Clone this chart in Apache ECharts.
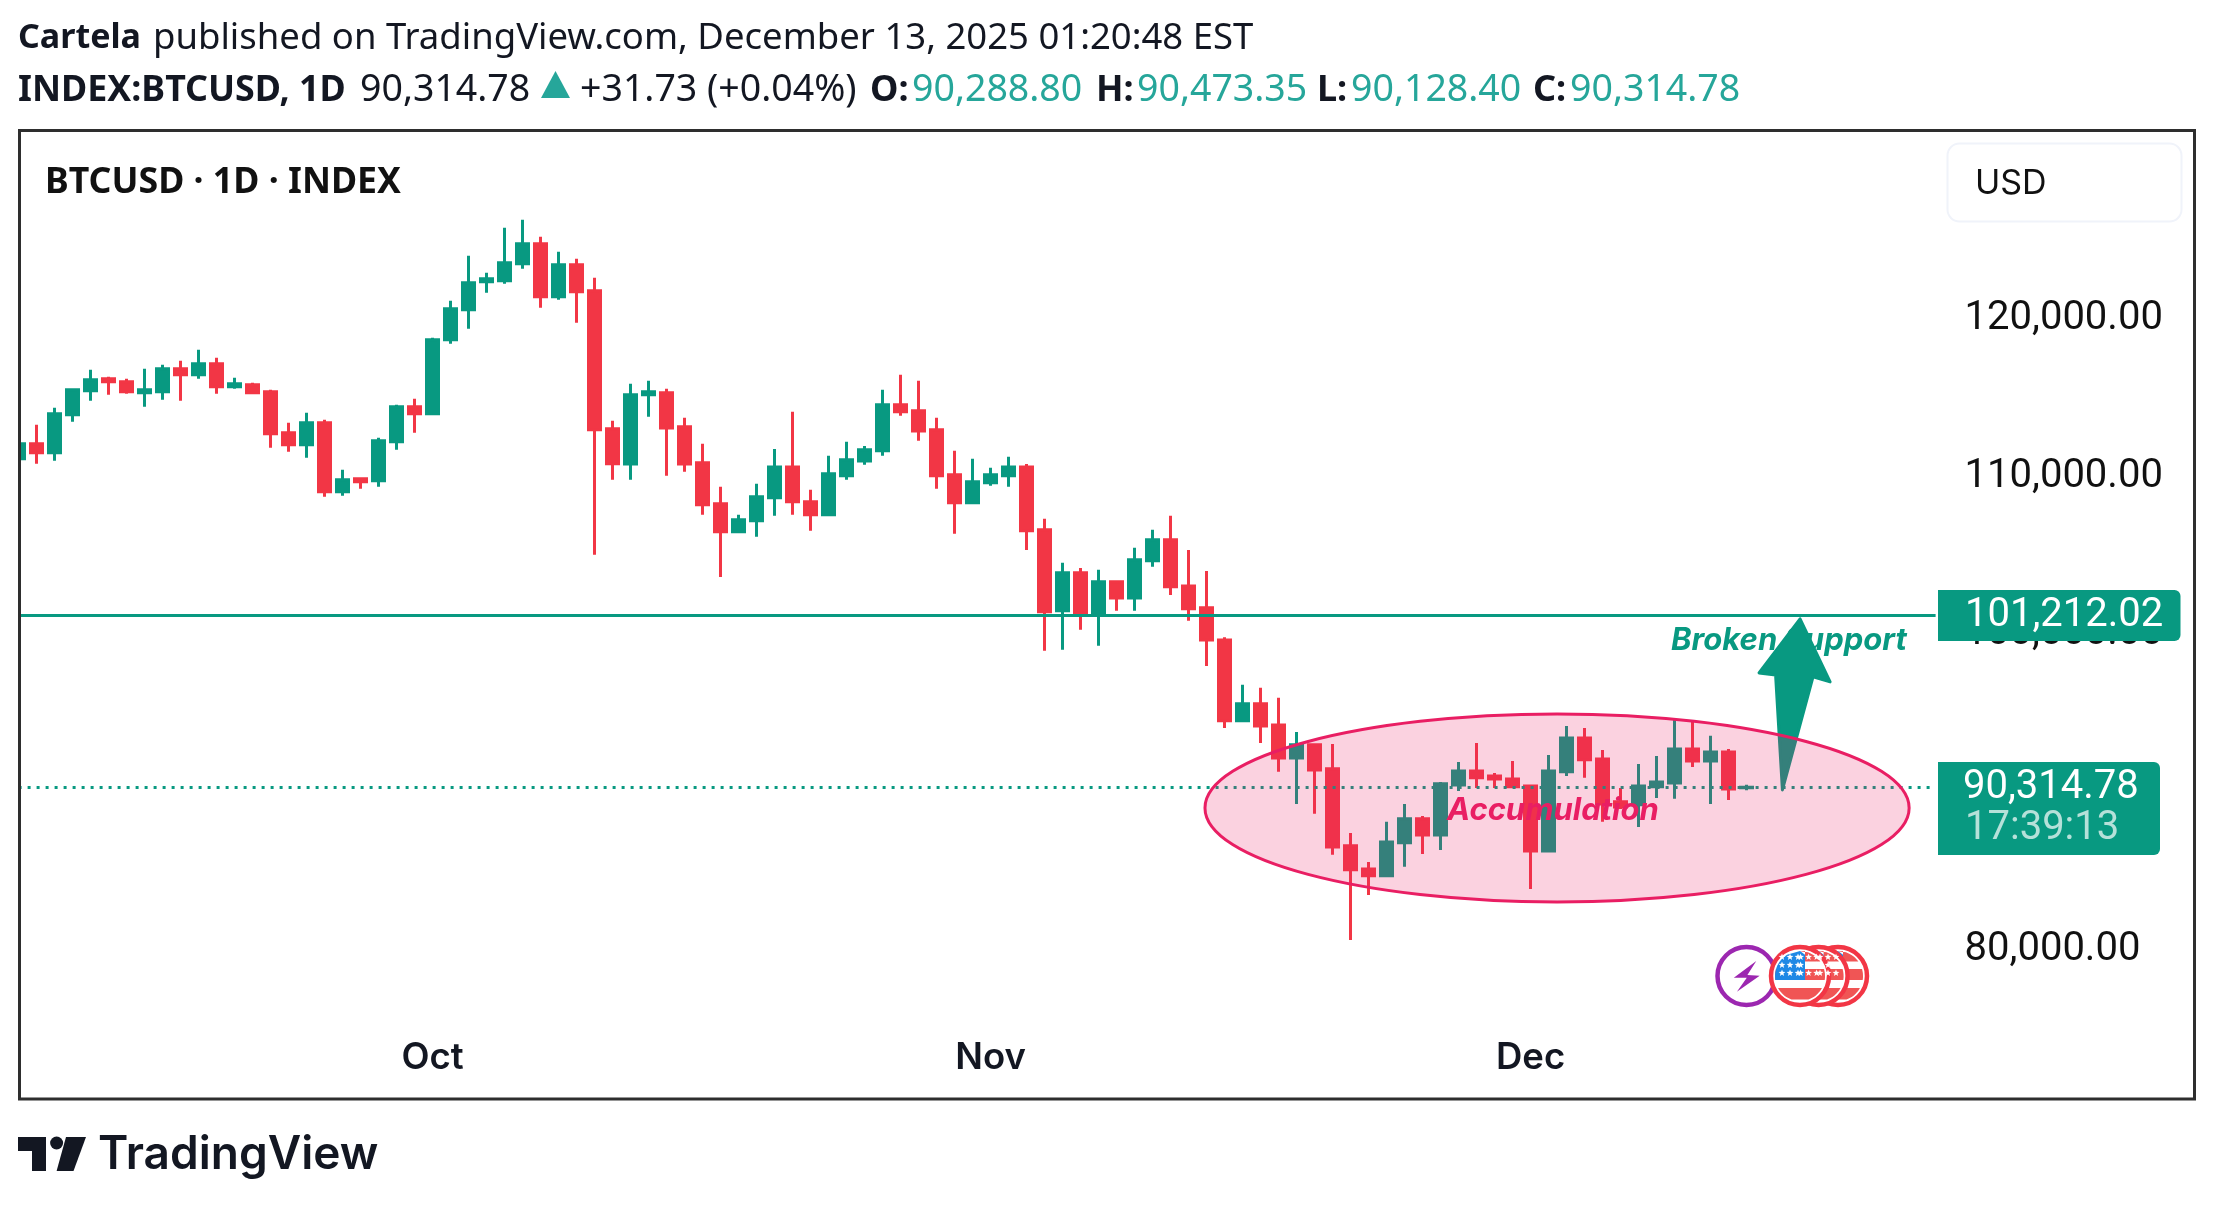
<!DOCTYPE html>
<html><head><meta charset="utf-8">
<style>html,body{margin:0;padding:0;background:#fff}#c{width:2214px;height:1209px}</style>
<script src="https://cdn.jsdelivr.net/npm/echarts@6/dist/echarts.min.js"></script>
</head><body><div id="c"></div>
<script>
const opens=[111120,112070,111500,113910,115430,116190,116000,115300,115370,116830,116450,117140,115680,115810,115370,112770,112010,113400,109030,109860,109730,112200,114420,113970,118660,120560,122340,122400,123480,124750,121390,123410,121770,113020,110800,115180,115300,113150,110870,108270,106500,107190,108650,110610,108400,107570,110040,110990,111630,114540,114160,112960,110110,108330,109600,110040,110610,106620,101490,103900,101300,103330,102310,104660,105990,103070,101680,99650,94520,95600,94260,92170,93000,91480,86600,85140,84700,86790,88310,87290,90460,91350,91030,90840,90400,86280,91290,93440,92110,89390,89200,90340,90590,92740,91980,92550,90288.80];
const closes=[112070,111500,113970,115490,116130,116000,115370,115490,116830,116450,117140,115680,115870,115300,112710,112010,113400,109030,109790,109670,112260,114420,113970,118660,120630,122270,122530,123540,124750,121390,123410,121700,112960,110810,115180,115370,113080,110800,108210,106500,107260,108710,110610,108400,107570,110170,111060,111690,114540,114100,112890,110040,108330,109660,110110,110610,106560,101430,103900,101300,103330,102310,104720,105990,103010,101620,99650,94520,95600,94200,92170,93000,91410,86530,85080,84700,86850,88310,87290,90530,91350,90910,90840,90340,86280,91350,93440,92050,89260,89070,90400,90650,92740,91980,92550,90210,90314.78];
const highs=[112330,113280,114350,115520,116760,116320,116190,116830,117080,117330,118030,117520,116250,115940,115490,113400,114040,113590,110430,109880,112450,114540,114920,118790,121130,123980,122910,125760,126270,125190,124240,123800,122590,113530,115870,116060,115560,113720,112070,109350,107570,109540,111750,114100,109160,111310,112200,111940,115490,116440,116060,113720,111630,111120,110550,111250,110800,107320,104530,104210,104090,103390,105480,106620,107510,105350,104020,99820,96800,96610,95980,93820,93020,93060,87420,85580,88120,89260,88500,90650,91920,93120,91220,91980,90420,92360,94200,94070,92680,90270,91790,92300,94640,94520,93570,92740,90473.35];
const lows=[110850,110810,111000,113470,114800,115180,115240,114420,114860,114800,116190,115240,115560,115280,111820,111570,111190,108710,108780,109220,109350,111690,112770,113950,118410,119360,121640,122210,123160,120690,121200,119740,105040,109790,109790,113780,110040,110300,107570,103640,106430,106180,107510,107570,106560,107560,109790,110740,111310,113850,112260,109220,106370,108310,109410,109350,105350,98960,99020,100290,99270,101490,101490,104280,102500,100860,98000,94070,94500,93120,91290,89260,88630,86030,80640,83490,84680,85270,86090,86340,90080,90270,90270,90320,83870,86220,91030,90910,88120,88940,87800,89640,89580,91600,89260,89510,90128.40];
const startDate='2025-09-08';
const categoryCount=107;
const monthTicks={'2025-10-01':'Oct','2025-11-01':'Nov','2025-12-01':'Dec'};
const priceTicks=[80000,90000,100000,110000,120000];
const lastPrice=90314.78;
const supportLevel=101212.02;
const countdown='17:39:13';
const yMin=70690,yMax=131762;
const arrowPoints=[[98.97,100980],[96.69,97558],[97.61,97431],[97.99,90144],[99.69,97305],[100.64,96988]];
const ellipseCenter=[85.47,89003];
const ellipseRadii=[19.56,5957];
const brokenText={idx:98.35,price:99580,text:'Broken Support'};
const accumText={idx:85.24,price:88810,text:'Accumulation'};
const headerLine1=[['Cartela',18,true,34],['published on TradingView.com, December 13, 2025 01:20:48 EST',153,false,36.5]];
const headerLine2=[['INDEX:BTCUSD, 1D',18,true,'#131722',35.8],['90,314.78',360,false,'#131722',37.5],['+31.73 (+0.04%)',580,false,'#131722',37.5],['O:',870,true,'#131722',36],['90,288.80',912,false,'#26a69a',37.5],['H:',1096,true,'#131722',36],['90,473.35',1137,false,'#26a69a',37.5],['L:',1317,true,'#131722',36],['90,128.40',1351,false,'#26a69a',37.5],['C:',1533,true,'#131722',36],['90,314.78',1570,false,'#26a69a',37.5]];

const categories=[];
{const d=new Date(startDate+'T00:00:00Z');for(let i=0;i<categoryCount;i++){categories.push(d.toISOString().slice(0,10));d.setUTCDate(d.getUTCDate()+1);}}
const candleData=opens.map((o,i)=>[o,closes[i],lows[i],highs[i]]);
const UP='#089981',DOWN='#F23645',PINK='#e91e63',INK='#131722';
const HFONT='"Noto Sans",sans-serif',LFONT='Inter,sans-serif',PFONT='Roboto,sans-serif';

const ptFn=api=>(i,p)=>{const b=Math.floor(i);const c=api.coord([b,p]);c[0]+=(i-b)*api.size([1,0])[0];return c;};
function overlay(z,render){return{type:'custom',z,clip:false,silent:true,data:[[0,lastPrice]],renderItem:(params,api)=>render(ptFn(api)),tooltip:{show:false}};}

function bandPoly(cx,cy,r,y0,y1,x0,x1){const pts=[];const n=8;
 for(let k=0;k<=n;k++){const y=y0+(y1-y0)*k/n;const w=Math.sqrt(Math.max(0,r*r-y*y));pts.push([cx+Math.min(w,x1),cy+y]);}
 for(let k=n;k>=0;k--){const y=y0+(y1-y0)*k/n;const w=Math.sqrt(Math.max(0,r*r-y*y));pts.push([cx+Math.max(-w,x0),cy+y]);}
 return pts;}
function starPts(cx,cy,R){const p=[];for(let k=0;k<10;k++){const a=-Math.PI/2+k*Math.PI/5;const r=k%2?R*0.42:R;p.push([cx+r*Math.cos(a),cy+r*Math.sin(a)]);}return p;}
function flag(cx,cy){const out=[];const R=25,S='#f05555';
 out.push({type:'circle',z:60,shape:{cx,cy,r:29},style:{fill:'#fff',stroke:DOWN,lineWidth:4.5}});
 out.push({type:'polygon',z:60,shape:{points:bandPoly(cx,cy,R,-25,-14.5,5,99)},style:{fill:S}});
 out.push({type:'polygon',z:60,shape:{points:bandPoly(cx,cy,R,-7,4,-99,99)},style:{fill:S}});
 out.push({type:'polygon',z:60,shape:{points:bandPoly(cx,cy,R,12,23.5,-99,99)},style:{fill:S}});
 out.push({type:'polygon',z:60,shape:{points:bandPoly(cx,cy,R,-25,4,-99,5)},style:{fill:'#1e88e5'}});
 [-19,-11,-3].forEach(y=>[-18,-10,-2].forEach(x=>out.push({type:'polygon',z:61,shape:{points:starPts(cx+x,cy+y,3.6)},style:{fill:'#fff'}})));
 return out;}

const g=[];
g.push({type:'rect',z:50,shape:{x:0,y:120,width:18,height:990},style:{fill:'#fff'}});
g.push({type:'rect',z:51,shape:{x:19.5,y:130.5,width:2175,height:968.5},style:{fill:'none',stroke:'#2e2e2e',lineWidth:3}});
headerLine1.forEach(t=>g.push({type:'text',z:60,x:t[1],y:38.5,style:{text:t[0],font:(t[2]?'bold ':'')+t[3]+'px '+HFONT,fill:INK,verticalAlign:'middle'}}));
headerLine2.forEach(t=>g.push({type:'text',z:60,x:t[1],y:90.5,style:{text:t[0],font:(t[2]?'bold ':'')+t[4]+'px '+HFONT,fill:t[3],verticalAlign:'middle'}}));
g.push({type:'polygon',z:60,shape:{points:[[555.5,71],[570,98],[541,98]]},style:{fill:'#26a69a'}});
g.push({type:'text',z:60,x:45,y:182.5,style:{text:'BTCUSD · 1D · INDEX',font:'bold 35.7px '+HFONT,fill:'#111',verticalAlign:'middle'}});
g.push({type:'rect',z:60,shape:{x:1947.5,y:143.5,width:234,height:78,r:12},style:{fill:'#fff',stroke:'#f0f3fa',lineWidth:2}});
g.push({type:'text',z:61,x:1975,y:183.5,style:{text:'USD',font:'34px '+LFONT,fill:'#111',verticalAlign:'middle'}});
g.push({type:'rect',z:60,shape:{x:1938,y:590,width:242.5,height:51,r:[0,6,6,0]},style:{fill:UP}});
g.push({type:'text',z:61,x:1965,y:616,style:{text:supportLevel.toLocaleString('en-US',{minimumFractionDigits:2}),font:'40px '+PFONT,fill:'#fff',verticalAlign:'middle'}});
g.push({type:'rect',z:60,shape:{x:1938,y:762,width:222,height:93,r:[0,6,6,0]},style:{fill:UP}});
g.push({type:'text',z:61,x:1963,y:788,style:{text:lastPrice.toLocaleString('en-US',{minimumFractionDigits:2}),font:'40px '+PFONT,fill:'#fff',verticalAlign:'middle'}});
g.push({type:'text',z:61,x:1965,y:829,style:{text:countdown,font:'40px '+PFONT,fill:'rgba(255,255,255,0.7)',verticalAlign:'middle'}});
g.push({type:'circle',z:59,shape:{cx:1746.5,cy:976,r:29},style:{fill:'#fff',stroke:'#9c27b0',lineWidth:4.5}});
g.push({type:'polygon',z:59,shape:{points:[[1756.3,961],[1733.8,977.7],[1746.8,977.7],[1736.9,991.7],[1759.7,975.7],[1747.4,975]]},style:{fill:'#9c27b0'}});
[1838,1818.6,1800].forEach(cx=>flag(cx,976).forEach(e=>g.push(e)));
g.push({type:'polygon',z:60,shape:{points:[[18,1137],[46,1137],[46,1171],[32,1171],[32,1151],[18,1151]]},style:{fill:INK}});
g.push({type:'circle',z:60,shape:{cx:56.6,cy:1143,r:6.5},style:{fill:INK}});
g.push({type:'polygon',z:60,shape:{points:[[66,1137],[86,1137],[73.5,1171],[56.6,1171]]},style:{fill:INK}});
g.push({type:'text',z:60,x:98,y:1155.5,style:{text:'TradingView',font:'600 46px '+LFONT,fill:INK,verticalAlign:'middle'}});

const option={
 animation:false,
 backgroundColor:'#fff',
 grid:{left:9.6,width:1926,top:133,height:964,containLabel:false},
 xAxis:{type:'category',data:categories,boundaryGap:true,axisLine:{show:false},axisTick:{show:false},splitLine:{show:false},
  axisLabel:{inside:true,margin:20,color:INK,fontFamily:LFONT,fontWeight:600,fontSize:36.5,hideOverlap:false,
   interval:(i,v)=>v in monthTicks,formatter:v=>monthTicks[v]||''}},
 yAxis:{type:'value',position:'right',min:yMin,max:yMax,scale:true,axisLine:{show:false},axisTick:{show:false,customValues:priceTicks},splitLine:{show:false},
  axisLabel:{customValues:priceTicks,align:'left',margin:29,color:'#111',fontFamily:PFONT,fontSize:40,padding:[0,0,3,0],
   formatter:v=>Number(v).toLocaleString('en-US',{minimumFractionDigits:2})}},
 series:[
  {type:'candlestick',z:2,data:candleData,barWidth:12,clip:true,
   itemStyle:{color:UP,color0:DOWN,borderColor:UP,borderColor0:DOWN,borderWidth:3},
   markLine:{silent:true,symbol:'none',label:{show:false},animation:false,data:[
     {yAxis:supportLevel,lineStyle:{color:UP,width:3,type:'solid'}},
     {yAxis:lastPrice,lineStyle:{color:UP,width:3,type:[3,6]}}]}},
  overlay(3,pt=>{const c=pt(brokenText.idx,brokenText.price);return{type:'text',x:c[0],y:c[1],style:{text:brokenText.text,font:'italic bold 31px '+LFONT,fill:UP,align:'center',verticalAlign:'middle'}};}),
  overlay(4,pt=>({type:'polygon',shape:{points:arrowPoints.map(p=>pt(p[0],p[1]))},style:{fill:UP,stroke:UP,lineWidth:3,lineJoin:'round'}})),
  overlay(5,pt=>{const c=pt(ellipseCenter[0],ellipseCenter[1]);const e=pt(ellipseCenter[0]+ellipseRadii[0],ellipseCenter[1]+ellipseRadii[1]);
    return{type:'ellipse',shape:{cx:c[0],cy:c[1],rx:e[0]-c[0],ry:c[1]-e[1]},style:{fill:'rgba(233,30,99,0.2)',stroke:PINK,lineWidth:3}};}),
  overlay(6,pt=>{const c=pt(accumText.idx,accumText.price);return{type:'text',x:c[0],y:c[1],style:{text:accumText.text,font:'italic bold 31px '+LFONT,fill:PINK,align:'center',verticalAlign:'middle'}};})
 ],
 graphic:{elements:g}
};
const chart=echarts.init(document.getElementById('c'),null,{renderer:'canvas',width:2214,height:1209});
chart.setOption(option);
</script></body></html>
